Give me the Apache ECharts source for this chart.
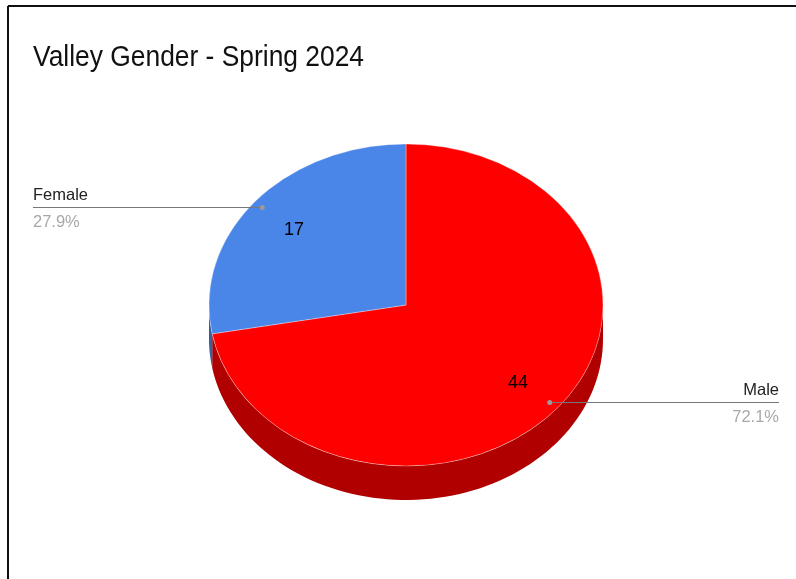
<!DOCTYPE html>
<html lang="en">
<head>
  <meta charset="UTF-8">
  <title>Valley Gender - Spring 2024</title>
  <style>
    html,body{margin:0;padding:0;background:#fff;}
    #main{width:796px;height:579px;}
  </style>
</head>
<body>
  <div id="main"></div>
  <script src="https://cdn.jsdelivr.net/npm/echarts@6/dist/echarts.min.js"></script>
  <script>
    const chartTitle='Valley Gender - Spring 2024';
    const categories=['Male','Female'];
    const values=[44,17];

    const topColors=['#ff0000','#4a86e8'];
    const wallColors=['#b00000','#34609f'];
    const fontName='"Liberation Sans", Arial, sans-serif';

    // flat pie tilted into an ellipse, wall below it
    const cx=406, cy=305, rx=197, ry=161, depth=34;
    const dotRadius=0.95, valueRadius=0.74;
    const leftEnd=33, rightEnd=779;

    const total=values.reduce((a,b)=>a+b,0);
    const startOf=i=>values.slice(0,i).reduce((a,b)=>a+b,0)/total*Math.PI*2-Math.PI/2;
    const endOf=i=>startOf(i)+values[i]/total*Math.PI*2;

    function wallPoints(a0,a1){
      // only the front half of the rim (0..PI on canvas) shows
      const from=Math.max(a0,0), to=Math.min(a1,Math.PI);
      if(to<=from) return null;
      const pts=[];
      const steps=80;
      for(let s=0;s<=steps;s++){
        const a=from+(to-from)*s/steps;
        pts.push([cx+rx*Math.cos(a),cy+ry*Math.sin(a)]);
      }
      for(let s=steps;s>=0;s--){
        const a=from+(to-from)*s/steps;
        pts.push([cx+rx*Math.cos(a),cy+depth+ry*Math.sin(a)]);
      }
      return pts;
    }

    function renderSlice(params,api){
      const i=params.dataIndex;
      const value=api.value(0);
      const a0=startOf(i), a1=endOf(i), mid=(a0+a1)/2;
      const ux=Math.cos(mid), uy=Math.sin(mid);
      const children=[];

      const wall=wallPoints(a0,a1);
      if(wall){
        children.push({type:'polygon',z2:0,shape:{points:wall},style:{fill:wallColors[i]}});
      }
      children.push({
        type:'sector',z2:1,
        originX:cx,originY:cy,scaleY:ry/rx,
        shape:{cx:cx,cy:cy,r:rx,r0:0,startAngle:a0,endAngle:a1,clockwise:true},
        style:{fill:topColors[i],stroke:'rgba(255,255,255,0.35)',lineWidth:1,strokeNoScale:true}
      });

      const dotX=cx+rx*dotRadius*ux, dotY=cy+ry*dotRadius*uy;
      const lineY=Math.floor(dotY)+0.5;
      const onRight=ux>0;
      const endX=onRight?rightEnd:leftEnd;
      children.push({
        type:'line',z2:3,
        shape:{x1:dotX,y1:lineY,x2:endX,y2:lineY},
        style:{stroke:'#777777',lineWidth:1}
      });
      children.push({
        type:'circle',z2:4,
        shape:{cx:dotX,cy:lineY,r:2.5},
        style:{fill:'#9a9a9a'}
      });
      const align=onRight?'right':'left';
      children.push({
        type:'text',z2:5,x:endX,y:lineY-4,
        style:{text:categories[i],font:'16.5px '+fontName,fill:'#222222',align:align,verticalAlign:'bottom'}
      });
      children.push({
        type:'text',z2:5,x:endX,y:lineY+6,
        style:{text:(value/total*100).toFixed(1)+'%',font:'16.5px '+fontName,fill:'#a8a8a8',align:align,verticalAlign:'top'}
      });
      children.push({
        type:'text',z2:5,
        x:cx+rx*valueRadius*ux,y:cy+ry*valueRadius*uy+1.5,
        style:{text:String(value),font:'18px '+fontName,fill:'#000000',align:'center',verticalAlign:'middle'}
      });
      return {type:'group',children:children};
    }

    const chart=echarts.init(document.querySelector('#main'),null,{renderer:'canvas'});
    chart.setOption({
      animation:false,
      backgroundColor:'#ffffff',
      graphic:[
        {type:'line',shape:{x1:8,y1:6,x2:796,y2:6},style:{stroke:'#111111',lineWidth:2}},
        {type:'line',shape:{x1:8,y1:6,x2:8,y2:579},style:{stroke:'#111111',lineWidth:2}},
        // the reference title runs a little narrow for its height
        {
          type:'text',x:33,y:58,scaleX:0.91,
          style:{text:chartTitle,font:'29px '+fontName,fill:'#111111',align:'left',verticalAlign:'middle'}
        }
      ],
      series:[{
        type:'custom',
        coordinateSystem:'none',
        silent:true,
        clip:false,
        renderItem:renderSlice,
        data:values.map((v,i)=>({name:categories[i],value:[v]}))
      }]
    });
  </script>
</body>
</html>
